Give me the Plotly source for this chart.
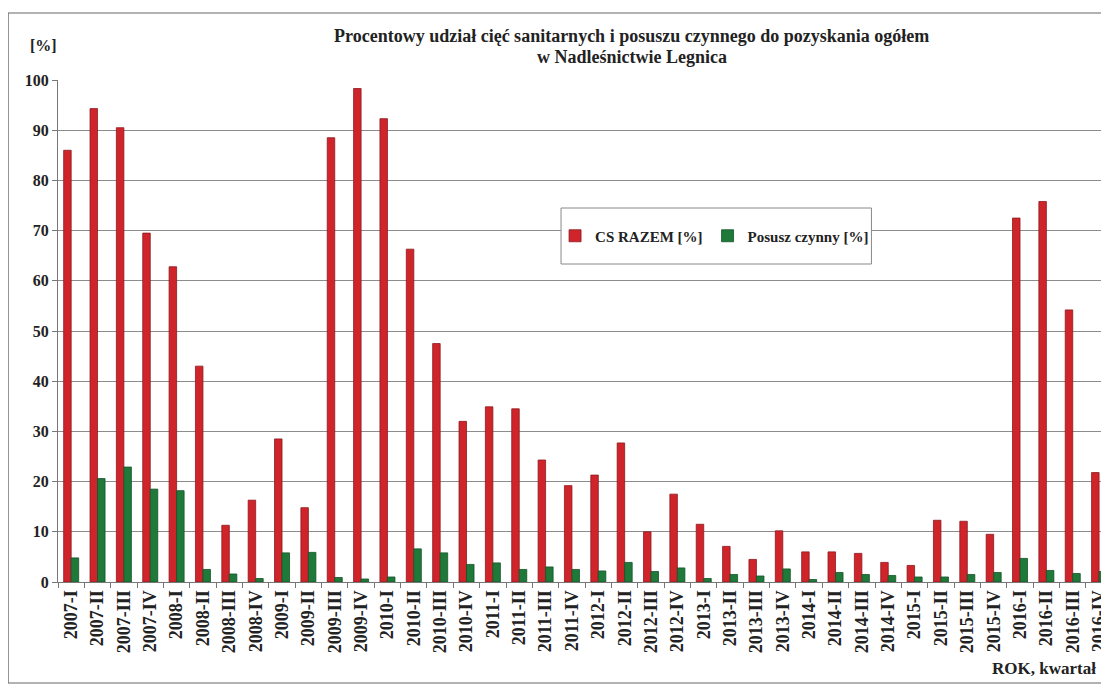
import plotly.graph_objects as go

categories = [f"{y}-{q}" for y in range(2007, 2017) for q in ["I", "II", "III", "IV"]]

cs_razem = [86.0, 94.3, 90.5, 69.5, 62.8, 43.0, 11.3, 16.3,
            28.5, 14.8, 88.5, 98.3, 92.3, 66.3, 47.5, 32.0,
            34.9, 34.5, 24.3, 19.2, 21.3, 27.7, 10.0, 17.5,
            11.5, 7.1, 4.5, 10.2, 6.0, 6.0, 5.7, 3.9,
            3.3, 12.3, 12.1, 9.5, 72.5, 75.8, 54.2, 21.8]

posusz = [4.8, 20.6, 22.9, 18.5, 18.2, 2.5, 1.6, 0.7,
          5.8, 5.9, 0.9, 0.6, 1.0, 6.6, 5.8, 3.5,
          3.8, 2.5, 3.0, 2.5, 2.2, 3.9, 2.1, 2.8,
          0.7, 1.5, 1.2, 2.6, 0.5, 1.9, 1.5, 1.3,
          1.0, 1.0, 1.5, 1.9, 4.7, 2.3, 1.7, 2.1]

FONT = "Liberation Serif"
TXT = "#222"

# the page body has an 8px margin, so the figure is sized/positioned to compensate
OFF = 8
W, H = 1109 - OFF, 686 - OFF
S_L, S_T, S_B, S_R = 58, 80, 582, 1109  # plot area in screen pixels
L = S_L - OFF
T = S_T - OFF
B = H - (S_B - OFF)
R = 0
pw = W - L - R
ph = H - T - B

def px_x(sx):
    return (sx - OFF - L) / pw

def px_y(sy):
    return (H - B - (sy - OFF)) / ph

fig = go.Figure()
fig.add_trace(go.Bar(x=categories, y=cs_razem, name="CS RAZEM [%]",
                     marker=dict(color="#d0242b", line=dict(color="#8a1a20", width=0.8))))
fig.add_trace(go.Bar(x=categories, y=posusz, name="Posusz czynny [%]",
                     marker=dict(color="#1f7a3a", line=dict(color="#14532a", width=0.8))))

fig.update_layout(
    width=W, height=H,
    margin=dict(l=L, r=R, t=T, b=B),
    paper_bgcolor="white", plot_bgcolor="white",
    barmode="group", bargap=0.43, bargroupgap=0,
    font=dict(family=FONT, size=12, color=TXT),
    showlegend=True,
    legend=dict(orientation="h", x=px_x(556), y=px_y(236), xanchor="left", yanchor="middle",
                bgcolor="rgba(0,0,0,0)", borderwidth=0,
                font=dict(family=FONT, size=15, color=TXT, weight="bold"),
                itemwidth=30, tracegroupgap=0),
    xaxis=dict(type="category", range=[-0.5, 39.3], tickangle=-90,
               showline=True, linecolor="#777", linewidth=1,
               ticks="outside", tickson="boundaries", ticklen=5, tickcolor="#777",
               tickfont=dict(family=FONT, size=18, color=TXT, weight="bold"),
               showgrid=False),
    yaxis=dict(range=[0, 100], dtick=10, showgrid=True, gridcolor="#8c8c8c", gridwidth=1,
               showline=True, linecolor="#777", linewidth=1,
               ticks="outside", ticklen=5, tickcolor="#777",
               tickfont=dict(family=FONT, size=16, color=TXT, weight="bold"),
               zeroline=False),
    annotations=[
        dict(text="Procentowy udział cięć sanitarnych i posuszu czynnego do pozyskania ogółem",
             xref="paper", yref="paper", x=px_x(633), y=px_y(36), xanchor="center", yanchor="middle",
             showarrow=False, font=dict(family=FONT, size=18, color=TXT, weight="bold")),
        dict(text="w Nadleśnictwie Legnica",
             xref="paper", yref="paper", x=px_x(633), y=px_y(57), xanchor="center", yanchor="middle",
             showarrow=False, font=dict(family=FONT, size=18, color=TXT, weight="bold")),
        dict(text="[%]", xref="paper", yref="paper", x=px_x(28), y=px_y(45),
             xanchor="left", yanchor="middle", showarrow=False,
             font=dict(family=FONT, size=16, color=TXT, weight="bold")),
        dict(text="ROK, kwartał", xref="paper", yref="paper", x=px_x(1100), y=px_y(668),
             xanchor="right", yanchor="middle", showarrow=False,
             font=dict(family=FONT, size=17, color=TXT, weight="bold")),
    ],
    shapes=[
        dict(type="rect", xref="paper", yref="paper",
             x0=px_x(8), x1=px_x(1130), y0=px_y(683), y1=px_y(13),
             line=dict(color="#666", width=1.2), fillcolor="rgba(0,0,0,0)", layer="below"),
        dict(type="rect", xref="paper", yref="paper",
             x0=px_x(562), x1=px_x(873), y0=px_y(264), y1=px_y(208),
             line=dict(color="#888", width=1), fillcolor="white", layer="above"),
    ],
)

fig.write_html("out.html")
